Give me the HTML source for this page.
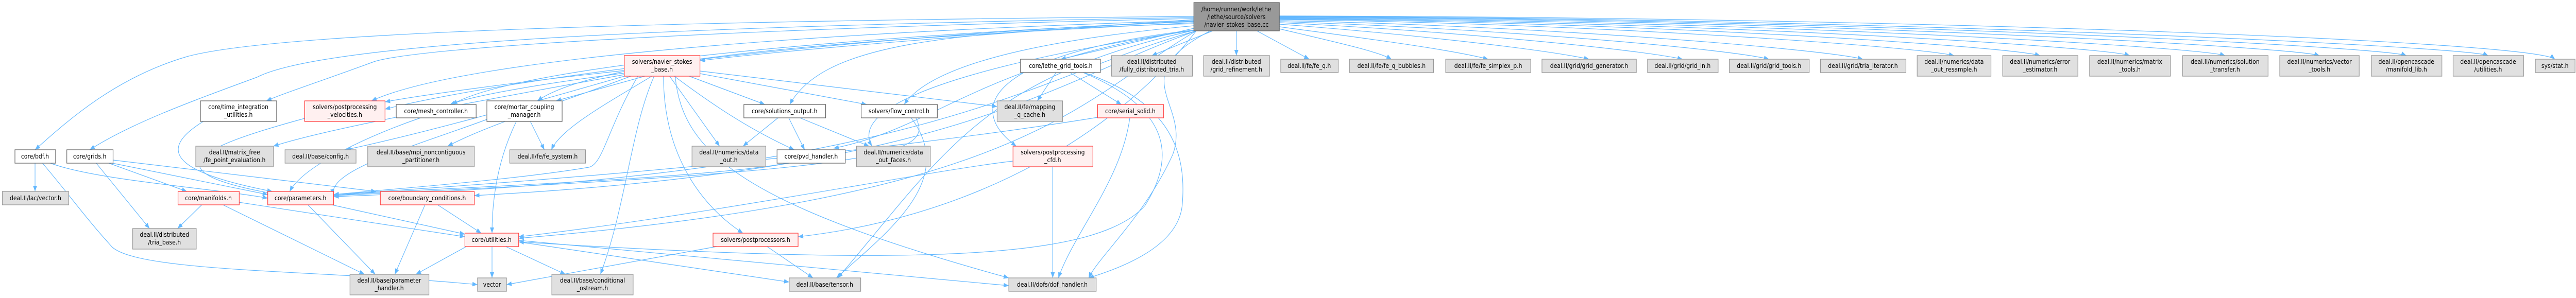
<!DOCTYPE html>
<html><head><meta charset="utf-8"><style>
html,body{margin:0;padding:0;background:#fff;width:100%;height:100%;overflow:hidden;}
svg{display:block;position:absolute;left:0;top:0;width:100%;height:100%;}
text{font-family:"DejaVu Sans","Liberation Sans",sans-serif;font-size:12px;fill:#000;text-anchor:middle;}
.e{fill:none;stroke:#63b8ff;stroke-width:1.2;marker-end:url(#a);}
.w{fill:#fff;stroke:#666;stroke-width:1.3;}
.g{fill:#e0e0e0;stroke:#999;stroke-width:1.3;}
.r{fill:#fff0f0;stroke:#ff4040;stroke-width:1.3;}
.m{fill:#999;stroke:#666;stroke-width:1.3;}
</style></head><body>
<svg viewBox="0 0 5513 579" preserveAspectRatio="none" xmlns="http://www.w3.org/2000/svg">
<defs><marker id="a" viewBox="0 0 10 10" refX="10" refY="5" markerWidth="11" markerHeight="11" markerUnits="userSpaceOnUse" orient="auto"><path d="M0,1 L10,5 L0,9z" fill="#63b8ff"/></marker></defs>
<g>
<path class="e" d="M2646 60 L2646 108"/>
<path class="e" d="M2595 60 L2465 108"/>
<path class="e" d="M2555 55 L2270 115"/>
<path class="e" d="M2690 60 L2802 115"/>
<path class="e" d="M2738 56 C2850 80 2950 100 2978 115"/>
<path class="e" d="M2738 52 C2900 72 3100 95 3185 115"/>
<path class="e" d="M2738 47 C3000 65 3300 95 3401 115"/>
<path class="e" d="M2738 44 C3100 60 3500 95 3601 115"/>
<path class="e" d="M2738 42 C3200 55 3700 95 3786 115"/>
<path class="e" d="M2738 40 C3300 50 3900 95 3987 115"/>
<path class="e" d="M2738 38 C3400 45 4100 90 4182 108"/>
<path class="e" d="M2738 37 C3500 42 4300 90 4366 108"/>
<path class="e" d="M2738 36 C3600 40 4500 90 4558 108"/>
<path class="e" d="M2738 35 C3700 38 4700 90 4762 108"/>
<path class="e" d="M2738 34 C3800 36 4900 90 4964 108"/>
<path class="e" d="M2738 33 C3900 35 5100 90 5150 108"/>
<path class="e" d="M2738 32 C4000 34 5280 90 5325 108"/>
<path class="e" d="M2738 31 C4100 33 5420 80 5468 115"/>
<path class="e" d="M2555 38 C2200 60 1700 95 1498 118"/>
<path class="e" d="M2555 32 C1500 40 600 60 400 110 C250 150 150 230 75 291"/>
<path class="e" d="M2555 34 C1500 50 700 80 550 150 C400 200 280 240 192 291"/>
<path class="e" d="M2555 36 C1600 55 900 90 800 120 C680 160 610 180 570 196"/>
<path class="e" d="M2555 40 C1800 60 1000 110 795 196"/>
<path class="e" d="M2555 41 C1800 70 1100 150 824 212"/>
<path class="e" d="M2555 42 C1800 70 1100 130 968 203"/>
<path class="e" d="M2555 44 C2000 70 1300 100 1150 196"/>
<path class="e" d="M2555 46 C2000 60 1760 90 1690 203"/>
<path class="e" d="M2555 50 C2200 80 1990 130 1935 203"/>
<path class="e" d="M2560 58 C2250 100 1800 180 1866 284"/>
<path class="e" d="M2560 58 C2150 100 2050 200 2175 284"/>
<path class="e" d="M2590 60 C2400 150 2550 200 2510 300 C2450 420 2350 500 2330 540"/>
<path class="e" d="M2560 58 C2100 120 2000 250 1784 288"/>
<path class="e" d="M2560 58 C2100 150 2020 300 1793 540"/>
<path class="e" d="M2560 60 C2300 200 2200 380 1110 463"/>
<path class="e" d="M2560 60 C2400 250 2100 420 1708 460"/>
<path class="e" d="M2560 60 C2200 150 2000 340 714 382"/>
<path class="e" d="M2560 60 C2250 160 2050 330 1015 380"/>
<path class="e" d="M1380 148 L1190 196"/>
<path class="e" d="M1336 137 C1100 160 900 185 824 198"/>
<path class="e" d="M1336 142 C1100 170 1000 190 963 203"/>
<path class="e" d="M1336 145 C1000 200 700 250 585 284"/>
<path class="e" d="M1340 147 C1100 210 900 260 740 291"/>
<path class="e" d="M1350 148 C1200 200 1050 240 958 284"/>
<path class="e" d="M1395 148 C1300 200 1200 250 1180 291"/>
<path class="e" d="M1365 148 C1300 250 1290 320 1260 325 C1100 350 800 370 714 378"/>
<path class="e" d="M1433 148 L1540 284"/>
<path class="e" d="M1443 148 C1520 200 1600 250 1700 291"/>
<path class="e" d="M1475 148 L1637 203"/>
<path class="e" d="M1498 143 L1855 203"/>
<path class="e" d="M1498 138 L2134 207"/>
<path class="e" d="M1420 148 C1420 300 1500 400 1590 453"/>
<path class="e" d="M1400 148 C1350 250 1340 400 1285 533"/>
<path class="e" d="M1445 148 C1460 300 1600 400 2159 540"/>
<path class="e" d="M435 236 C320 300 400 340 583 372"/>
<path class="e" d="M652 230 C450 280 300 330 583 376"/>
<path class="e" d="M75 316 L75 372"/>
<path class="e" d="M105 316 C200 350 450 365 573 385"/>
<path class="e" d="M90 316 C150 380 180 420 240 480 C300 530 700 525 1022 553"/>
<path class="e" d="M205 316 L320 444"/>
<path class="e" d="M230 316 L400 372"/>
<path class="e" d="M235 316 L573 378"/>
<path class="e" d="M242 311 L805 372"/>
<path class="e" d="M433 397 L380 444"/>
<path class="e" d="M475 397 L780 533"/>
<path class="e" d="M511 393 L995 460"/>
<path class="e" d="M658 397 L803 533"/>
<path class="e" d="M705 397 L995 455"/>
<path class="e" d="M910 397 L845 533"/>
<path class="e" d="M935 397 L1030 453"/>
<path class="e" d="M1053 478 L1053 540"/>
<path class="e" d="M1080 478 L1210 533"/>
<path class="e" d="M1110 470 L1689 548"/>
<path class="e" d="M1110 467 L2159 555"/>
<path class="e" d="M1000 478 L890 533"/>
<path class="e" d="M1540 478 L1084 553"/>
<path class="e" d="M1640 478 L1740 540"/>
<path class="e" d="M1665 229 L1590 284"/>
<path class="e" d="M1688 229 L1722 291"/>
<path class="e" d="M1712 229 L1860 284"/>
<path class="e" d="M1960 229 C2000 300 1900 330 714 380"/>
<path class="e" d="M1950 229 C2050 350 1900 450 1790 540"/>
<path class="e" d="M1690 316 C1500 350 800 370 714 380"/>
<path class="e" d="M2260 141 L2220 196"/>
<path class="e" d="M2290 141 L2400 203"/>
<path class="e" d="M2320 141 C2510 200 2540 300 2530 400 C2520 480 2400 520 2330 540"/>
<path class="e" d="M2318 141 C2500 210 2520 300 2450 400 C2350 500 2000 520 1110 470"/>
<path class="e" d="M2418 229 C2400 350 2300 450 2265 540"/>
<path class="e" d="M2349 228 C2200 250 1700 320 714 378"/>
<path class="e" d="M2253 324 L2253 540"/>
<path class="e" d="M2168 313 C2000 330 1500 420 1110 460"/>
<path class="e" d="M1135 236 L1165 291"/>
<path class="e" d="M1105 236 C1060 320 1053 400 1053 453"/>
<path class="e" d="M1042 232 C900 280 700 330 714 378"/>
<path class="e" d="M900 229 C800 260 650 320 620 372"/>
</g>
<g>
<rect class="m" x="2555" y="5" width="183" height="55"/><text x="2646" y="22">/home/runner/work/lethe</text><text x="2646" y="37">/lethe/source/solvers</text><text x="2646" y="52">/navier_stokes_base.cc</text>
<rect class="w" x="2184" y="115" width="171" height="26"/><text x="2270" y="132">core/lethe_grid_tools.h</text>
<rect class="g" x="2379" y="108" width="173" height="40"/><text x="2465" y="124">deal.II/distributed</text><text x="2465" y="139">/fully_distributed_tria.h</text>
<rect class="g" x="2576" y="108" width="141" height="40"/><text x="2646" y="124">deal.II/distributed</text><text x="2646" y="139">/grid_refinement.h</text>
<rect class="g" x="2741" y="115" width="123" height="26"/><text x="2802" y="132">deal.II/fe/fe_q.h</text>
<rect class="g" x="2888" y="115" width="180" height="26"/><text x="2978" y="132">deal.II/fe/fe_q_bubbles.h</text>
<rect class="g" x="3094" y="115" width="182" height="26"/><text x="3185" y="132">deal.II/fe/fe_simplex_p.h</text>
<rect class="g" x="3300" y="115" width="202" height="26"/><text x="3401" y="132">deal.II/grid/grid_generator.h</text>
<rect class="g" x="3526" y="115" width="151" height="26"/><text x="3601" y="132">deal.II/grid/grid_in.h</text>
<rect class="g" x="3701" y="115" width="171" height="26"/><text x="3786" y="132">deal.II/grid/grid_tools.h</text>
<rect class="g" x="3896" y="115" width="183" height="26"/><text x="3987" y="132">deal.II/grid/tria_iterator.h</text>
<rect class="g" x="4103" y="108" width="158" height="40"/><text x="4182" y="124">deal.II/numerics/data</text><text x="4182" y="139">_out_resample.h</text>
<rect class="g" x="4286" y="108" width="161" height="40"/><text x="4366" y="124">deal.II/numerics/error</text><text x="4366" y="139">_estimator.h</text>
<rect class="g" x="4472" y="108" width="173" height="40"/><text x="4558" y="124">deal.II/numerics/matrix</text><text x="4558" y="139">_tools.h</text>
<rect class="g" x="4671" y="108" width="183" height="40"/><text x="4762" y="124">deal.II/numerics/solution</text><text x="4762" y="139">_transfer.h</text>
<rect class="g" x="4879" y="108" width="170" height="40"/><text x="4964" y="124">deal.II/numerics/vector</text><text x="4964" y="139">_tools.h</text>
<rect class="g" x="5075" y="108" width="151" height="40"/><text x="5150" y="124">deal.II/opencascade</text><text x="5150" y="139">/manifold_lib.h</text>
<rect class="g" x="5250" y="108" width="151" height="40"/><text x="5325" y="124">deal.II/opencascade</text><text x="5325" y="139">/utilities.h</text>
<rect class="g" x="5426" y="115" width="85" height="26"/><text x="5468" y="132">sys/stat.h</text>
<rect class="r" x="1336" y="108" width="162" height="40"/><text x="1417" y="124">solvers/navier_stokes</text><text x="1417" y="139">_base.h</text>
<rect class="w" x="429" y="196" width="163" height="40"/><text x="510" y="212">core/time_integration</text><text x="510" y="227">_utilities.h</text>
<rect class="r" x="652" y="196" width="172" height="40"/><text x="738" y="212">solvers/postprocessing</text><text x="738" y="227">_velocities.h</text>
<rect class="w" x="848" y="203" width="171" height="26"/><text x="933" y="220">core/mesh_controller.h</text>
<rect class="w" x="1042" y="196" width="161" height="40"/><text x="1122" y="212">core/mortar_coupling</text><text x="1122" y="227">_manager.h</text>
<rect class="w" x="1592" y="203" width="175" height="26"/><text x="1679" y="220">core/solutions_output.h</text>
<rect class="w" x="1843" y="203" width="163" height="26"/><text x="1924" y="220">solvers/flow_control.h</text>
<rect class="g" x="2134" y="196" width="140" height="40"/><text x="2204" y="212">deal.II/fe/mapping</text><text x="2204" y="227">_q_cache.h</text>
<rect class="r" x="2349" y="203" width="141" height="26"/><text x="2419" y="220">core/serial_solid.h</text>
<rect class="w" x="32" y="291" width="87" height="26"/><text x="75" y="308">core/bdf.h</text>
<rect class="w" x="143" y="291" width="99" height="26"/><text x="192" y="308">core/grids.h</text>
<rect class="g" x="419" y="284" width="166" height="40"/><text x="502" y="300">deal.II/matrix_free</text><text x="502" y="315">/fe_point_evaluation.h</text>
<rect class="g" x="610" y="291" width="152" height="26"/><text x="686" y="308">deal.II/base/config.h</text>
<rect class="g" x="787" y="284" width="228" height="40"/><text x="901" y="300">deal.II/base/mpi_noncontiguous</text><text x="901" y="315">_partitioner.h</text>
<rect class="g" x="1091" y="291" width="162" height="26"/><text x="1172" y="308">deal.II/fe/fe_system.h</text>
<rect class="g" x="1481" y="284" width="158" height="40"/><text x="1560" y="300">deal.II/numerics/data</text><text x="1560" y="315">_out.h</text>
<rect class="w" x="1663" y="291" width="146" height="26"/><text x="1736" y="308">core/pvd_handler.h</text>
<rect class="g" x="1833" y="284" width="158" height="40"/><text x="1912" y="300">deal.II/numerics/data</text><text x="1912" y="315">_out_faces.h</text>
<rect class="r" x="2168" y="284" width="171" height="40"/><text x="2253" y="300">solvers/postprocessing</text><text x="2253" y="315">_cfd.h</text>
<rect class="g" x="5" y="372" width="142" height="26"/><text x="76" y="389">deal.II/lac/vector.h</text>
<rect class="r" x="381" y="372" width="131" height="26"/><text x="446" y="389">core/manifolds.h</text>
<rect class="r" x="573" y="372" width="141" height="26"/><text x="643" y="389">core/parameters.h</text>
<rect class="r" x="814" y="372" width="201" height="26"/><text x="914" y="389">core/boundary_conditions.h</text>
<rect class="g" x="284" y="444" width="136" height="40"/><text x="352" y="460">deal.II/distributed</text><text x="352" y="475">/tria_base.h</text>
<rect class="r" x="995" y="453" width="115" height="26"/><text x="1052" y="470">core/utilities.h</text>
<rect class="r" x="1526" y="453" width="182" height="26"/><text x="1617" y="470">solvers/postprocessors.h</text>
<rect class="g" x="749" y="533" width="169" height="40"/><text x="833" y="549">deal.II/base/parameter</text><text x="833" y="564">_handler.h</text>
<rect class="g" x="1022" y="540" width="62" height="26"/><text x="1053" y="557">vector</text>
<rect class="g" x="1181" y="533" width="174" height="40"/><text x="1268" y="549">deal.II/base/conditional</text><text x="1268" y="564">_ostream.h</text>
<rect class="g" x="1689" y="540" width="153" height="26"/><text x="1765" y="557">deal.II/base/tensor.h</text>
<rect class="g" x="2159" y="540" width="187" height="26"/><text x="2252" y="557">deal.II/dofs/dof_handler.h</text>
</g>
</svg>
</body></html>
